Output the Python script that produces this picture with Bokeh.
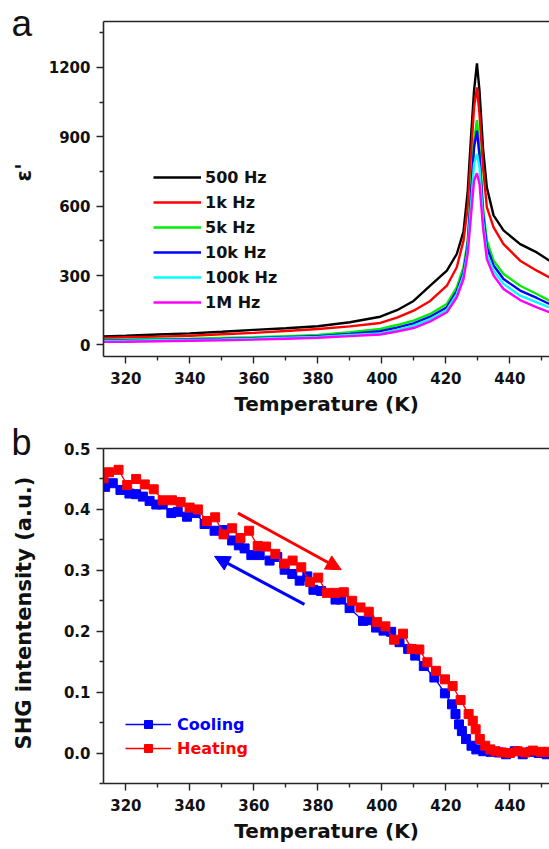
import math
from bokeh.plotting import figure
from bokeh.layouts import column
from bokeh.models import (Range1d, LinearAxis, FixedTicker, PrintfTickFormatter, Label,
                          Legend, LegendItem, Arrow, NormalHead)
from bokeh.embed import file_html
from bokeh.resources import INLINE

# ---------------- Panel a: dielectric constant ----------------
temp_a = [313, 320, 330, 340, 350, 360, 370, 380, 390, 399.5, 404.7, 409.9, 415.1, 420.3,
          423.4, 425.5, 426.8, 427.8, 428.8, 429.7, 430.5, 431.6, 432.8, 434.9, 438.0,
          443.2, 448.4, 452.4]
eps_500Hz = [37, 40, 45, 50, 57, 65, 72, 81, 98, 122, 150, 190, 256, 321, 393, 490, 660,
             890, 1099, 1217, 1099, 850, 680, 560, 495, 436, 400, 364]
eps_1kHz = [30, 33, 36, 40, 46, 52, 60, 69, 80, 95, 118, 148, 190, 256, 336, 451, 595,
            811, 1027, 1113, 998, 768, 595, 508, 436, 364, 321, 292]
eps_5kHz = [23, 24, 26, 27, 30, 33, 38, 43, 55, 69, 86, 105, 134, 177, 249, 336, 451,
            667, 883, 972, 854, 595, 451, 364, 307, 256, 220, 191]
eps_10kHz = [19, 20, 22, 24, 26, 29, 33, 38, 48, 59, 75, 93, 122, 163, 232, 314, 429,
             638, 854, 926, 818, 566, 422, 343, 285, 235, 203, 177]
eps_100kHz = [17, 18, 20, 22, 24, 27, 31, 35, 43, 50, 65, 83, 112, 151, 220, 300, 408,
              595, 782, 825, 768, 537, 393, 321, 264, 213, 184, 162]
eps_1MHz = [13, 14, 16, 18, 20, 23, 27, 31, 38, 45, 58, 73, 102, 141, 206, 285, 393,
            552, 710, 742, 696, 508, 371, 300, 242, 194, 162, 141]
freq_labels = ["500 Hz", "1k Hz", "5k Hz", "10k Hz", "100k Hz", "1M Hz"]
freq_colors = ["#000000", "#FF0000", "#00EE00", "#0000FF", "#00FFFF", "#FF00FF"]
eps_series = [eps_500Hz, eps_1kHz, eps_5kHz, eps_10kHz, eps_100kHz, eps_1MHz]

# ---------------- Panel b: SHG intensity ----------------
temp_heat = [313.0, 314.7, 317.7, 320.4, 323.2, 325.9, 328.7, 331.5, 334.4, 337.1, 339.9,
             342.5, 345.3, 347.9, 350.5, 353.2, 355.8, 358.5, 361.2, 363.8, 366.7, 369.4,
             372.1, 374.8, 377.5, 380.1, 382.8, 385.5, 388.1, 390.7, 393.3, 395.9, 398.5,
             401.1, 403.8, 406.6, 409.3, 411.7, 414.2, 416.9, 419.7, 422.1, 424.6, 427.1,
             428.4, 429.3, 430.6, 432.3, 433.9, 435.5, 437.5, 440.0, 442.4, 444.8, 447.2,
             449.6, 452.0]
shg_heat = [0.451, 0.461, 0.465, 0.440, 0.450, 0.441, 0.433, 0.415, 0.415, 0.412, 0.403,
            0.400, 0.381, 0.387, 0.359, 0.369, 0.353, 0.365, 0.340, 0.339, 0.327, 0.311,
            0.316, 0.305, 0.281, 0.288, 0.263, 0.263, 0.264, 0.250, 0.239, 0.232, 0.215,
            0.208, 0.186, 0.196, 0.171, 0.170, 0.149, 0.135, 0.121, 0.110, 0.087, 0.064,
            0.053, 0.039, 0.023, 0.012, 0.006, 0.003, 0.001, 0.000, 0.003, 0.001, 0.004,
            0.002, 0.002]
temp_cool = [313.5, 315.9, 318.3, 321.1, 323.2, 325.3, 327.4, 329.5, 331.5, 334.2, 336.2,
             339.1, 341.8, 344.6, 347.7, 350.8, 353.2, 355.3, 357.1, 359.2, 361.8, 364.9,
             367.3, 369.6, 372.0, 374.3, 376.7, 378.6, 381.0, 385.5, 387.3, 389.9, 394.1,
             396.1, 398.2, 400.5, 402.9, 405.5, 408.2, 410.4, 413.1, 416.4, 419.7, 421.9,
             423.0, 424.1, 425.0, 426.3, 428.0, 429.5, 431.7, 434.0, 436.5, 438.8, 441.5,
             444.0, 446.5, 449.0, 451.5]
shg_cool = [0.437, 0.443, 0.432, 0.426, 0.425, 0.421, 0.414, 0.408, 0.408, 0.394, 0.396,
            0.388, 0.394, 0.376, 0.365, 0.366, 0.349, 0.341, 0.336, 0.325, 0.325, 0.316,
            0.322, 0.301, 0.294, 0.283, 0.290, 0.268, 0.266, 0.252, 0.252, 0.238, 0.217,
            0.218, 0.206, 0.201, 0.199, 0.182, 0.171, 0.160, 0.143, 0.124, 0.098, 0.080,
            0.064, 0.047, 0.036, 0.023, 0.012, 0.006, 0.003, 0.002, 0.001, -0.002, 0.003,
            -0.002, 0.002, 0.000, -0.002]
# arrows (data coordinates): heating arrow points to higher T, cooling to lower T
arrow_heat = [(355.0, 0.394), (387.3, 0.301)]
arrow_cool = [(375.8, 0.244), (347.7, 0.323)]

x_ticks = [320, 340, 360, 380, 400, 420, 440]
x_minor = [330, 350, 370, 390, 410, 430, 450]
ya_ticks = [0, 300, 600, 900, 1200]
ya_minor = [150, 450, 750, 1050, 1350]
yb_ticks = [0.0, 0.1, 0.2, 0.3, 0.4, 0.5]
yb_minor = [-0.05, 0.05, 0.15, 0.25, 0.35, 0.45]

FONT = "DejaVu Sans"
AX = "#262626"
TXT = "#111111"
X0, X1 = 313, 452.375
YA = (-50, 1398)
YB = (-0.05, 0.5)
FRAME_LEFT, FRAME_H = 103, 335


def style_axes(p, yticks, yminor, fmt=None):
    p.xaxis.ticker = FixedTicker(ticks=x_ticks, minor_ticks=x_minor)
    p.yaxis.ticker = FixedTicker(ticks=yticks, minor_ticks=yminor)
    if fmt:
        p.yaxis.formatter = PrintfTickFormatter(format=fmt)
    for ax in (p.xaxis[0], p.yaxis[0]):
        ax.axis_line_color = AX
        ax.axis_line_width = 1.6
        ax.major_tick_line_color = AX
        ax.minor_tick_line_color = AX
        ax.major_tick_line_width = 1.4
        ax.minor_tick_line_width = 1.4
        ax.major_tick_out = 7
        ax.major_tick_in = 0
        ax.minor_tick_out = 4
        ax.minor_tick_in = 0
        ax.major_label_text_font = FONT
        ax.major_label_text_font_style = "bold"
        ax.major_label_text_font_size = "15px"
        ax.major_label_text_color = TXT
    p.xaxis.major_label_standoff = 8
    p.yaxis.major_label_standoff = 6
    p.xaxis.axis_label = "Temperature (K)"
    p.xaxis.axis_label_text_font = FONT
    p.xaxis.axis_label_text_font_style = "bold"
    p.xaxis.axis_label_text_font_size = "20px"
    p.xaxis.axis_label_text_color = TXT
    p.xaxis.axis_label_standoff = 5
    top = LinearAxis(ticker=FixedTicker(ticks=[]), axis_line_color=AX, axis_line_width=1.6,
                     major_tick_line_color=None, minor_tick_line_color=None,
                     major_label_standoff=0)
    p.add_layout(top, "above")


def make_fig(height, top_border, yr):
    p = figure(width=549, height=height, output_backend="svg", toolbar_location=None,
               x_range=Range1d(X0, X1), y_range=Range1d(*yr),
               min_border_left=FRAME_LEFT, min_border_right=0,
               min_border_top=top_border, min_border_bottom=height - top_border - FRAME_H)
    p.grid.visible = False
    p.outline_line_color = None
    p.background_fill_color = "white"
    p.border_fill_color = "white"
    return p


def side_label(p, x, y, text, **kw):
    # placed in the left side panel so that it is not clipped to the plot frame
    p.add_layout(Label(x=x, y=y, x_units="screen", y_units="screen", text=text,
                       text_color=TXT, **kw), "left")


# ---------- figure a ----------
pa = make_fig(421, 21, YA)
style_axes(pa, ya_ticks, ya_minor)
renderers_a = []
for ser, col in zip(eps_series, freq_colors):
    r = pa.line(temp_a, ser, line_color=col, line_width=2.4)
    renderers_a.append(r)
leg_a = Legend(items=[LegendItem(label=l, renderers=[r]) for l, r in zip(freq_labels, renderers_a)],
               location=(50, 44), glyph_width=48, glyph_height=20, label_height=20,
               label_width=20, spacing=5, padding=0, margin=0, label_standoff=4,
               label_text_font=FONT, label_text_font_style="bold",
               label_text_font_size="16px", label_text_color=TXT,
               border_line_alpha=0, background_fill_alpha=0)
pa.add_layout(leg_a)
side_label(pa, 2, 184, "ε'", angle=math.pi / 2, text_align="center",
           text_baseline="middle", text_font=FONT, text_font_style="bold",
           text_font_size="21px")
side_label(pa, 11, 333, "a", text_align="left", text_baseline="alphabetic",
           text_font="Liberation Sans", text_font_size="37px")

# ---------- figure b ----------
pb = make_fig(428, 27, YB)
style_axes(pb, yb_ticks, yb_minor, fmt="%.1f")
lc = pb.line(temp_cool, shg_cool, line_color="#0000FF", line_width=1.3)
sc = pb.scatter(temp_cool, shg_cool, marker="square", size=9, fill_color="#0000FF",
                line_color="#0000FF")
lh = pb.line(temp_heat, shg_heat, line_color="#FF0000", line_width=1.3)
sh = pb.scatter(temp_heat, shg_heat, marker="square", size=9, fill_color="#FF0000",
                line_color="#FF0000")

for (s, e), col in ((arrow_heat, "#FF0000"), (arrow_cool, "#0000FF")):
    pb.add_layout(Arrow(x_start=s[0], y_start=s[1], x_end=e[0], y_end=e[1],
                        line_color=col, line_width=3,
                        end=NormalHead(size=15, fill_color=col, line_color=col, line_width=1)))

for lbl, rends, col, yoff in (("Cooling", [lc, sc], "#0000FF", 49),
                              ("Heating", [lh, sh], "#FF0000", 25)):
    lg = Legend(items=[LegendItem(label=lbl, renderers=rends)], location=(22, yoff),
                glyph_width=46, glyph_height=20, label_height=20, spacing=0, padding=0,
                margin=0, label_standoff=6, label_text_font=FONT,
                label_text_font_style="bold", label_text_font_size="16px",
                label_text_color=col, border_line_alpha=0, background_fill_alpha=0)
    pb.add_layout(lg)

side_label(pb, -13, 170.5, "SHG intentensity (a.u.)", angle=math.pi / 2,
           text_align="center", text_baseline="middle", text_font=FONT,
           text_font_style="bold", text_font_size="21px")
side_label(pb, -5, 341.5, "b", text_align="left", text_baseline="alphabetic",
           text_font="Liberation Sans", text_font_size="36px")

layout = column(pa, pb, spacing=0)
open("out.html", "w").write(file_html(layout, INLINE))
